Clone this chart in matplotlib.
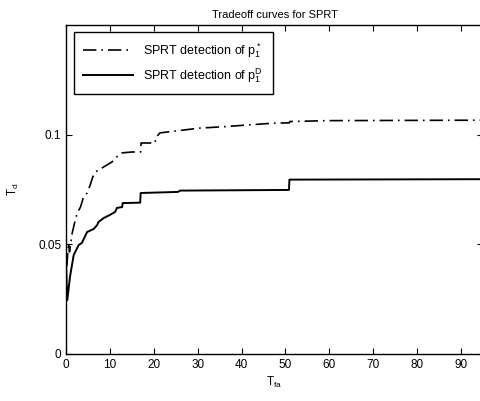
import matplotlib
matplotlib.use('Agg')
import matplotlib.pyplot as plt

plt.rcParams['font.family'] = ['Liberation Sans', 'DejaVu Sans']
plt.rcParams['mathtext.fontset'] = 'custom'
plt.rcParams['mathtext.rm'] = 'Liberation Sans'
plt.rcParams['mathtext.it'] = 'Liberation Sans'

# SPRT detection of p1* (dash-dot)
tfa_star = [0.2, 0.4, 0.6, 0.8, 1.4, 2.1, 2.5, 3.3, 4.0, 4.8, 5.5, 6.1, 6.7, 8.6,
            10.5, 11.2, 12.8, 15.0, 17.0, 17.1, 19.6, 20.3, 20.4, 21.4, 23.4, 30.5,
            35.8, 41.9, 47.0, 50.9, 51.0, 60.0, 95.0]
td_star = [0.040, 0.046, 0.0506, 0.0465, 0.055, 0.061, 0.064, 0.067, 0.0716, 0.0734,
           0.077, 0.0807, 0.083, 0.0853, 0.0876, 0.0894, 0.0917, 0.0921, 0.0921,
           0.0962, 0.0962, 0.0962, 0.0985, 0.1008, 0.1013, 0.103, 0.1036, 0.1045,
           0.1052, 0.1054, 0.1060, 0.1064, 0.1066]

# SPRT detection of p1D (solid)
tfa_d = [0.05, 0.15, 0.3, 0.9, 1.75, 2.9, 3.6, 4.8, 6.3, 7.1, 7.4, 8.6, 10.0, 11.2,
         11.6, 12.8, 12.9, 16.9, 17.0, 25.5, 26.0, 50.8, 50.9, 95.0]
td_d = [0.0397, 0.032, 0.0246, 0.0351, 0.0451, 0.0497, 0.0506, 0.0556, 0.057, 0.0588,
        0.0602, 0.062, 0.0634, 0.0648, 0.0666, 0.067, 0.0688, 0.069, 0.0734, 0.0739,
        0.0745, 0.0748, 0.0795, 0.0797]

fig = plt.figure(figsize=(4.8, 4.01), dpi=100)
ax = fig.add_axes([66 / 480, 47 / 401, 417 / 480, 329 / 401])

ax.plot(tfa_star, td_star, color='black', lw=1.2, linestyle=(0, (8, 3, 1, 3)),
        label=r'SPRT detection of p$_1^*$')
ax.plot(tfa_d, td_d, color='black', lw=1.4, linestyle='-',
        label=r'SPRT detection of p$_1^D$')

ax.set_xlim(0, 95)
ax.set_ylim(0, 0.15)
ax.set_xticks(range(0, 100, 10))
ax.set_yticks([0, 0.05, 0.1])
ax.set_yticklabels(['0', '0.05', '0.1'])
ax.tick_params(direction='in', top=True, right=True, length=4, labelsize=8.5, width=0.8)
for s in ax.spines.values():
    s.set_linewidth(1.0)

ax.set_title('Tradeoff curves for SPRT', fontsize=8, pad=5)
ax.set_xlabel(r'T$_{\rm fa}$', fontsize=8.5, labelpad=3)
ax.set_ylabel(r'T$_{\rm d}$', fontsize=8.5, labelpad=12)

leg = ax.legend(loc='upper left', bbox_to_anchor=(0.019, 0.979), fontsize=9,
                handlelength=4.0, handletextpad=0.8, labelspacing=0.5,
                borderpad=0.75, borderaxespad=0, fancybox=False, framealpha=1)
leg.get_frame().set_edgecolor('black')
leg.get_frame().set_linewidth(1.0)

fig.savefig('out.png', dpi=100)
